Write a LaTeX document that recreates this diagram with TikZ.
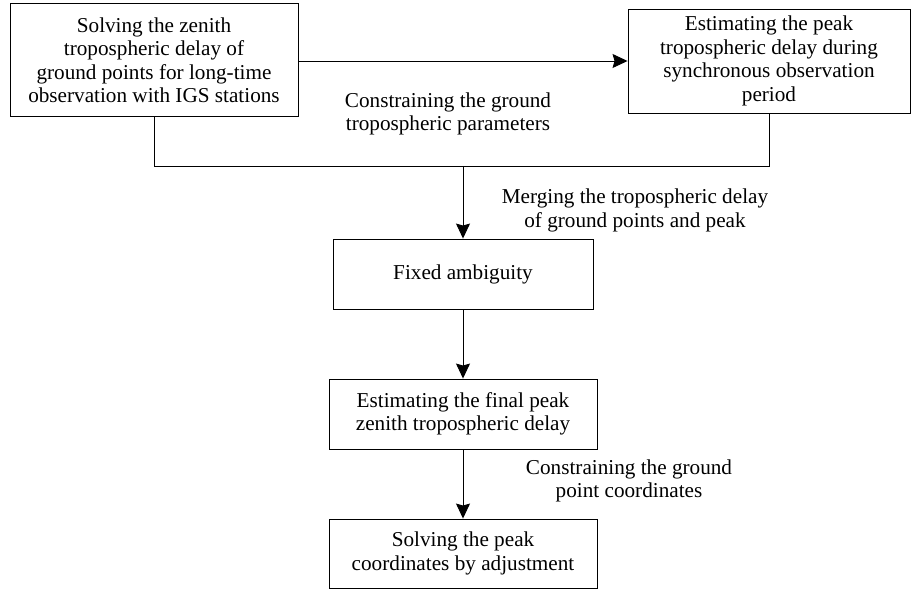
\documentclass[tikz,border=0pt]{standalone}
\usepackage{fontspec}
\setmainfont{Liberation Serif}
\usetikzlibrary{arrows.meta}
\begin{document}
\begin{tikzpicture}[x=1pt,y=-1pt,
  box/.style={draw, line width=0.9pt, rectangle, inner sep=0pt, align=center,
    font=\fontsize{21.2}{23.5}\selectfont},
  lbl/.style={inner sep=0pt, align=center, font=\fontsize{21.2}{23.5}\selectfont},
  conn/.style={line width=0.9pt},
  arr/.style={conn, -{Stealth[length=15pt,width=14pt,inset=2pt]}}]
\useasboundingbox (0,0) rectangle (911,591);
\node[box, minimum width=288pt, minimum height=113pt] (b1) at (154,60)
  {Solving the zenith\\tropospheric delay of\\ground points for long-time\\observation with IGS stations};
\node[box, minimum width=282pt, minimum height=104pt] (b2) at (769,61)
  {Estimating the peak\\tropospheric delay during\\synchronous observation\\period};
\node[box, minimum width=260pt, minimum height=70pt] (b3) at (463,274) {Fixed ambiguity};
\node[box, minimum width=268pt, minimum height=70pt] (b4) at (463,414)
  {Estimating the final peak\\zenith tropospheric delay};
\node[box, minimum width=268pt, minimum height=69pt] (b5) at (463,553.5)
  {Solving the peak\\coordinates by adjustment};
\coordinate (j) at (463,166);
\node[lbl] (l1) at (448,114) {Constraining the ground\\tropospheric parameters};
\node[lbl] (l2) at (635,210.5) {Merging the tropospheric delay\\of ground points and peak};
\node[lbl] (l3) at (629,481) {Constraining the ground\\point coordinates};
\draw[arr] (b1.east |- b2.west) -- (b2.west);
\draw[conn] (b1.south) |- (j);
\draw[conn] (b2.south) |- (j);
\draw[arr] (j) -- (b3.north);
\draw[arr] (b3.south) -- (b4.north);
\draw[arr] (b4.south) -- (b5.north);
\end{tikzpicture}
\end{document}
